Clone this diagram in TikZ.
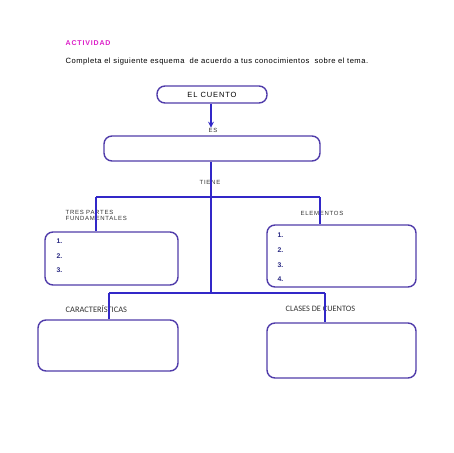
\documentclass[tikz,border=0pt]{standalone}
\usepackage{fontspec}
\setmainfont{Liberation Sans}
\newfontfamily\calibri{Carlito}
\newfontfamily\ancho[LetterSpace=12]{Liberation Sans}
\usetikzlibrary{arrows.meta}

\definecolor{boxline}{RGB}{80,60,170}
\definecolor{linkline}{RGB}{50,40,200}
\definecolor{actcolor}{RGB}{220,30,200}
\definecolor{numcolor}{RGB}{40,40,130}

\tikzset{every picture/.style={line width=1.4pt}}
\tikzset{
  cajita/.style={draw=boxline, rounded corners=8pt, line width=1.4pt, inner sep=0pt},
  rotulo/.style={font=\ancho\fontsize{6}{7}\selectfont, inner sep=0pt, text=black!80},
  numero/.style={font=\fontsize{6.8}{7}\selectfont\bfseries, text=numcolor, inner sep=0pt, anchor=west},
  enlace/.style={draw=linkline, line width=1.4pt}
}

\begin{document}
\begin{tikzpicture}[x=1pt,y=1pt,yscale=-1,xscale=1]
	\useasboundingbox[fill=white] (0,0) rectangle (453,453);

	% Text Node
	\node[anchor=west, inner sep=0pt, text=actcolor, font=\ancho\fontsize{7}{8}\selectfont\bfseries] (actividad) at (65,43.5) {ACTIVIDAD};
	% Text Node
	\node[anchor=west, inner sep=0pt, font=\fontsize{7.6}{9}\selectfont\addfontfeature{LetterSpace=6.5}] (consigna) at (65,61.5) {Completa el siguiente esquema\ \ de acuerdo a tus conocimientos\ \ sobre el tema.};

	%Shape: Rounded Rect
	\node[cajita, minimum width=110pt, minimum height=17pt] (cuento) at (212,94.5) {\ancho\fontsize{7.5}{8}\selectfont EL CUENTO};
	%Shape: Rounded Rect
	\node[cajita, minimum width=216pt, minimum height=25pt] (esbox) at (212,148.5) {};
	%Shape: Rounded Rect
	\node[cajita, minimum width=133pt, minimum height=53pt] (tresbox) at (111.5,258.5) {};
	%Shape: Rounded Rect
	\node[cajita, minimum width=149pt, minimum height=62pt] (elembox) at (341.5,256) {};
	%Shape: Rounded Rect
	\node[cajita, minimum width=140pt, minimum height=51pt] (caracbox) at (108,345.5) {};
	%Shape: Rounded Rect
	\node[cajita, minimum width=149pt, minimum height=55pt] (clasesbox) at (341.5,350.5) {};

	% Text Node
	\node[rotulo] (es) at (213,130.5) {ES};
	% Text Node
	\node[rotulo] (tiene) at (210,182) {TIENE};
	% Text Node
	\node[rotulo, anchor=north west, align=left, font=\ancho\fontsize{6}{6.5}\selectfont] (tres) at (65,209.5) {TRES PARTES\\FUNDAMENTALES};
	% Text Node
	\node[rotulo, anchor=west] (elem) at (300,213) {ELEMENTOS};
	% Text Node
	\node[rotulo, anchor=west, font=\calibri\fontsize{8.4}{9}\selectfont] (carac) at (65,309) {CARACTERÍSTICAS};
	% Text Node
	\node[rotulo, anchor=west, font=\calibri\fontsize{8.3}{9}\selectfont] (clases) at (285,309) {CLASES DE CUENTOS};

	% Numbers
	\foreach \n/\y in {1/241,2/256,3/270}
		\node[numero] (t\n) at (56,\y) {\n.};
	\foreach \n/\y in {1/235,2/250,3/265,4/279}
		\node[numero] (e\n) at (277,\y) {\n.};

	%Straight Lines
	\coordinate (ramaA) at (211,197);
	\coordinate (ramaB) at (211,293);
	\coordinate (izqA) at (96,197);
	\coordinate (derA) at (320,197);
	\coordinate (izqB) at (109,293);
	\coordinate (derB) at (325,293);

	\draw[enlace, -{Stealth[length=6pt,width=6pt]}] (cuento.south -| 211,0) -- (es.north -| 211,0);
	\draw[enlace] (esbox.south -| ramaA) -- (ramaB);
	\draw[enlace] (izqA) -- (derA);
	\draw[enlace] (izqA) -- (izqA |- tresbox.north);
	\draw[enlace] (derA) -- (derA |- elembox.north);
	\draw[enlace] (izqB) -- (derB);
	\draw[enlace] (izqB) -- (izqB |- caracbox.north);
	\draw[enlace] (derB) -- (derB |- clasesbox.north);

\end{tikzpicture}
\end{document}
